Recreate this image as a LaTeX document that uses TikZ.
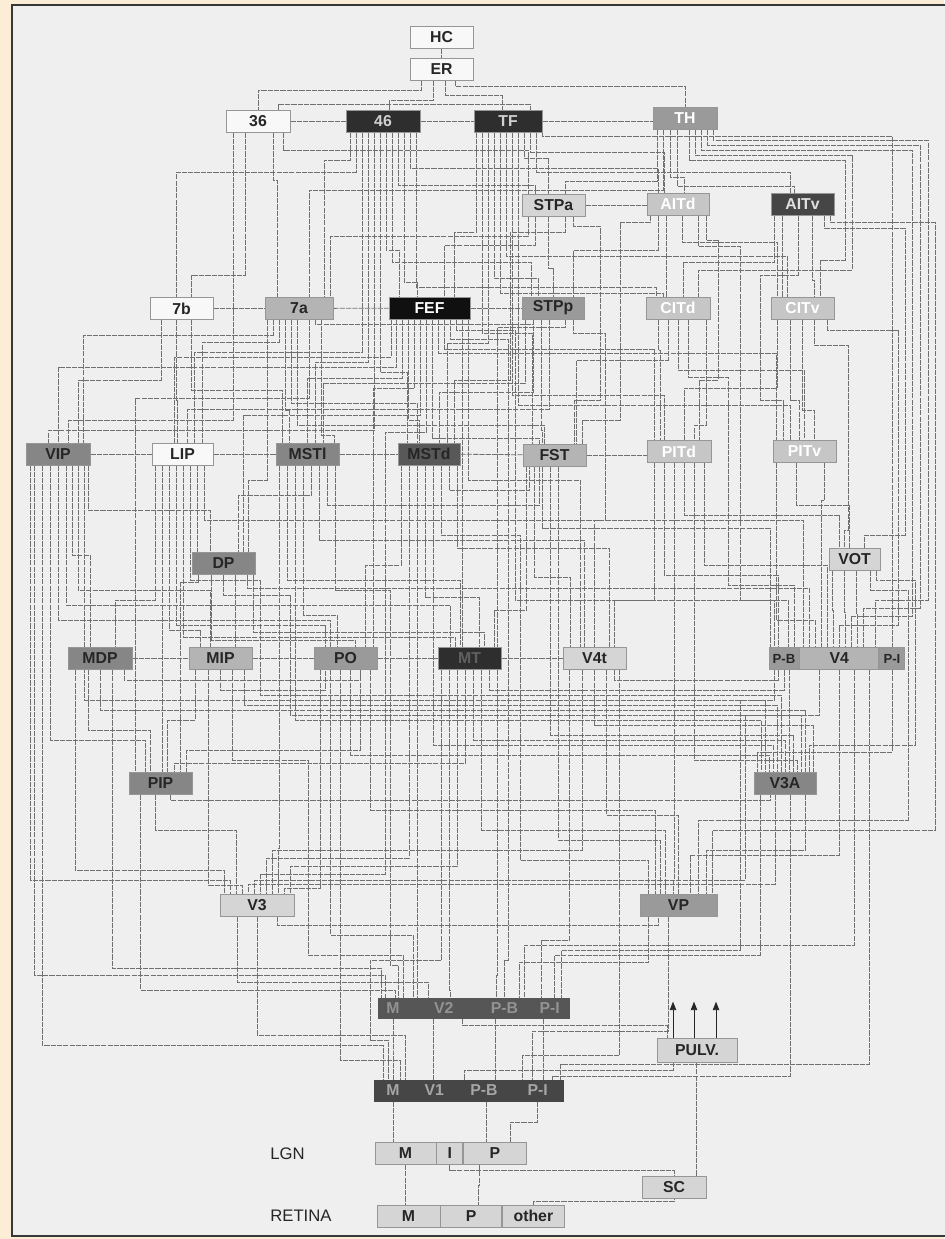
\documentclass[tikz,border=0pt]{standalone}
\usepackage{fontspec}
\setmainfont{Liberation Sans}
\usetikzlibrary{arrows.meta,positioning,calc,backgrounds}
\definecolor{sheet}{RGB}{251,237,214}
\definecolor{panel}{RGB}{239,239,239}
\definecolor{frame}{RGB}{55,55,55}
\definecolor{wire}{RGB}{112,112,112}
\definecolor{rim}{RGB}{150,150,150}
\definecolor{txt}{RGB}{38,38,38}
\definecolor{shWhite}{RGB}{248,248,248}
\definecolor{shPale}{RGB}{213,213,213}
\definecolor{shGhost}{RGB}{198,198,198}
\definecolor{shSilver}{RGB}{180,180,180}
\definecolor{shAsh}{RGB}{154,154,154}
\definecolor{shSlate}{RGB}{134,134,134}
\definecolor{shDeep}{RGB}{88,88,88}
\definecolor{shDeepw}{RGB}{70,70,70}
\definecolor{shCoal}{RGB}{46,46,46}
\definecolor{shBlack}{RGB}{16,16,16}
\definecolor{shVtwo}{RGB}{86,86,86}
\definecolor{shVone}{RGB}{70,70,70}
\tikzset{
  area/.style={
    draw=rim,
    line width=0.4pt,
    rectangle,
    inner sep=0pt,
    minimum height=0.44cm,
    text=txt,
    font=\fontsize{9}{10}\selectfont\bfseries,
  },
  wd/.style={minimum width=#1*0.02cm},
  paper/.style={fill=shWhite},
  pale/.style={fill=shPale},
  ghost/.style={fill=shGhost, text=white},
  silver/.style={fill=shSilver},
  ash/.style={fill=shAsh},
  ashw/.style={fill=shAsh, text=white},
  slate/.style={fill=shSlate},
  deep/.style={fill=shDeep},
  deepw/.style={fill=shDeepw, text=white!88!black},
  coal/.style={fill=shCoal, text=white!82!black},
  ink/.style={fill=shBlack, text=white},
  dim/.style={text=gray!75!black},
  small/.style={font=\fontsize{7.5}{8}\selectfont\bfseries},
  vtwo/.style={fill=shVtwo, draw=shVtwo, text=gray!85!white, minimum height=0.40cm},
  vone/.style={fill=shVone, draw=shVone, text=gray!70!white, minimum height=0.42cm},
  lbl/.style={text=txt, inner sep=0pt, font=\fontsize{9.5}{11}\selectfont},
  link/.style={draw=wire, line width=0.45pt, dash pattern=on 3pt off 0.6pt},
  uparr/.style={-{Triangle[length=1.7mm, width=1.3mm]}, draw=txt, fill=txt, line width=0.5pt},
}
\begin{document}
\begin{tikzpicture}[x=0.02cm, y=-0.02cm]
  \useasboundingbox (0,0) rectangle (944,1239);
  \begin{scope}[on background layer]
    \fill[sheet] (0,0) rectangle (944,1239);
    \filldraw[fill=panel, draw=frame, line width=1.3pt] (12,5) rectangle (960,1236);
  \end{scope}

  \node[area, paper, wd=63] (HC) at (441.5,37) {HC};
  \node[area, paper, wd=63] (ER) at (441.5,69) {ER};

  \node[area, paper, wd=64] (A36) at (258,121) {36};
  \node[area, coal, wd=74] (A46) at (383,121) {46};
  \node[area, coal, wd=68] (TF) at (508,121) {TF};
  \node[area, ashw, wd=64] (TH) at (685,118.5) {TH};

  \node[area, pale, wd=63] (STPa) at (553.5,205.5) {STPa};
  \node[area, ghost, wd=62] (AITd) at (678,204) {AITd};
  \node[area, deepw, wd=63] (AITv) at (802.5,204) {AITv};

  \node[area, paper, wd=63] (A7b) at (181.5,308.5) {7b};
  \node[area, silver, wd=68] (A7a) at (299,308.5) {7a};
  \node[area, ink, wd=81] (FEF) at (429.5,308) {FEF};
  \node[area, ash, wd=62] (STPp) at (553,308) {STPp};
  \node[area, ghost, wd=64] (CITd) at (678,308) {CITd};
  \node[area, ghost, wd=63] (CITv) at (802.5,308) {CITv};

  \node[area, slate, wd=64] (VIP) at (58,454) {VIP};
  \node[area, paper, wd=61] (LIP) at (182.5,454) {LIP};
  \node[area, slate, wd=63] (MSTl) at (307.5,454) {MSTl};
  \node[area, deep, wd=62] (MSTd) at (429,454) {MSTd};
  \node[area, silver, wd=63] (FST) at (554.5,455) {FST};
  \node[area, ghost, wd=64] (PITd) at (679,451.5) {PITd};
  \node[area, ghost, wd=63] (PITv) at (804.5,451.5) {PITv};

  \node[area, slate, wd=63] (DP) at (223.5,563) {DP};
  \node[area, pale, wd=51] (VOT) at (854.5,559) {VOT};

  \node[area, slate, wd=64] (MDP) at (100,658.5) {MDP};
  \node[area, silver, wd=63] (MIP) at (220.5,658.5) {MIP};
  \node[area, ash, wd=63] (PO) at (345.5,658.5) {PO};
  \node[area, coal, dim, wd=63] (MT) at (469.5,658.5) {MT};
  \node[area, pale, wd=63] (V4t) at (594.5,658.5) {V4t};
  \node[area, ash, small, wd=30] (V4pb) at (784,658.5) {P-B};
  \node[area, silver, wd=79, right=0pt of V4pb] (V4m) {V4};
  \node[area, ash, small, wd=25, right=0pt of V4m] (V4pi) {P-I};

  \node[area, slate, wd=63] (PIP) at (160.5,783) {PIP};
  \node[area, slate, wd=62] (V3A) at (785,783) {V3A};

  \node[area, pale, wd=74] (V3) at (257,905) {V3};
  \node[area, ash, wd=77] (VP) at (678.5,905) {VP};

  \node[area, vtwo, wd=30] (V2M) at (393,1008) {M};
  \node[area, vtwo, wd=70, right=0pt of V2M] (V2m) {V2};
  \node[area, vtwo, wd=50, right=0pt of V2m] (V2pb) {P-B};
  \node[area, vtwo, wd=39, right=0pt of V2pb] (V2pi) {P-I};

  \node[area, pale, wd=80, minimum height=0.48cm] (PULV) at (697,1050) {PULV.};

  \node[area, vone, wd=38] (V1M) at (393,1090.5) {M};
  \node[area, vone, wd=43, right=0pt of V1M] (V1m) {V1};
  \node[area, vone, wd=55, right=0pt of V1m] (V1pb) {P-B};
  \node[area, vone, wd=51, right=0pt of V1pb] (V1pi) {P-I};

  \node[lbl, anchor=west] (LGN) at (270,1153.5) {LGN};
  \node[area, pale, wd=61] (LGNM) at (405.5,1153.5) {M};
  \node[area, pale, wd=26, right=0pt of LGNM] (LGNI) {I};
  \node[area, pale, wd=63, right=0pt of LGNI] (LGNP) {P};
  \node[area, pale, wd=64] (SC) at (674,1187) {SC};
  \node[lbl, anchor=west] (RET) at (270,1216) {RETINA};
  \node[area, pale, wd=63] (RETM) at (408.5,1216) {M};
  \node[area, pale, wd=61, right=0pt of RETM] (RETP) {P};
  \node[area, pale, wd=62, right=0pt of RETP] (RETO) {other};

  \foreach \d in {-24,-3,19}
    \draw[uparr] ($(PULV.north)+(\d,0)$) -- ++(0,-36);

  \begin{scope}[on background layer]
    \foreach \a/\b in {HC/ER, A36/A46, A46/TF, A7b/A7a, A7a/FEF, FEF/STPp, VIP/LIP,
      LIP/MSTl, MSTl/MSTd, MSTd/FST, MDP/MIP, MIP/PO, PO/MT, MT/V4t}
      \draw[link] (\a) -- (\b);
    \draw[link] (TF.east) -- (TF.east -| TH.west);
    \draw[link] (STPa.east) -- (STPa.east -| AITd.west);
    \draw[link] (FST.east) -- (FST.east -| PITd.west);

    \foreach \src/\ds/\lv/\dst/\dd in {
      ER.south/-20/90/A36.north/0, ER.south/-8/100/A46.north/6,
      ER.south/4/95/TF.north/-6, ER.south/14/86/TH.north/0,
      A36.north/20/104/TF.north/22, A36.south/-13/275/A7b.north/10,
      A36.south/15/180/A7a.north/-22, A36.south/25/150/STPa.north/-25,
      A36.south/-25/420/VIP.north/10,
      A46.south/-33/160/A7a.north/25, A46.south/-27/172/A7b.north/-5,
      A46.south/-21/352/LIP.north/12, A46.south/-15/362/MSTl.north/8,
      A46.south/-9/430/VIP.north/-10, A46.south/-3/372/MSTd.north/-22,
      A46.south/3/250/FEF.north/-30, A46.south/9/262/STPp.north/-22,
      A46.south/15/185/STPa.north/-18, A46.south/21/282/FEF.north/-12,
      A46.south/27/168/AITd.north/-20, A46.south/33/287/CITd.north/-22,
      TF.south/-32/232/FEF.north/25, TF.south/-26/333/FST.north/-22,
      TF.south/-20/343/MSTd.north/18, TF.south/-14/278/STPp.north/-15,
      TF.south/-8/293/CITd.north/-15, TF.south/-2/256/CITv.north/-15,
      TF.south/4/395/PITd.north/-15, TF.south/10/405/PITv.north/-14,
      TF.south/16/158/STPa.north/-5, TF.south/22/152/AITd.north/-14,
      TF.south/28/172/AITv.north/-12, TF.south/34/136/V4pi.north/0,
      TH.south/-28/181/STPa.north/12, TH.south/-22/190/A7a.north/10,
      TH.south/-15/177/AITd.north/6, TH.south/-8/186/AITv.north/-8,
      STPa.south/-25/236/A7a.north/31, STPa.south/-18/245/FEF.north/15,
      STPa.south/-5/268/STPp.north/0,
      AITd.south/-20/250/STPp.north/20, AITd.south/-12/265/CITd.north/-12,
      AITd.south/4/242/CITv.north/-25,
      AITv.south/-20/250/CITv.north/-20, AITv.south/-28/262/CITd.north/5,
      AITv.south/10/280/CITv.north/12,
      A7b.south/-20/380/VIP.north/20, A7b.south/-5/400/LIP.north/-5,
      A7b.south/10/390/MSTl.north/-25,
      A7a.south/-32/480/DP.north/25, A7a.south/-26/335/VIP.north/25,
      A7a.south/-20/342/LIP.north/20, A7a.south/-14/410/MSTl.north/-18,
      A7a.south/-8/403/MSTd.north/-12, A7a.south/-2/425/FST.north/-10,
      A7a.south/10/398/PIP.north/-25, A7a.south/16/324/STPp.south/-20,
      A7a.south/22/435/MSTl.north/27,
      FEF.south/-38/357/LIP.north/-8, FEF.south/-33/367/VIP.north/0,
      FEF.south/-27/378/MSTl.north/0, FEF.south/-21/420/MSTd.north/-10,
      FEF.south/-15/388/PO.north/28, FEF.south/-9/415/DP.north/20,
      FEF.south/3/438/FST.north/-15, FEF.south/9/353/PITv.north/-28,
      FEF.south/15/349/PITd.north/-25, FEF.south/33/500/MT.north/-7,
      FEF.south/39/480/V4t.north/-14,
      STPp.south/-28/383/MSTl.north/16, STPp.south/-20/392/MSTd.north/10,
      STPp.south/-12/430/FST.north/-12, STPp.south/-4/409/LIP.north/5,
      STPp.south/12/327/MT.north/28,
      CITd.south/-20/350/PITd.north/-19, CITd.south/-10/360/FST.north/22,
      CITd.south/0/370/PITv.north/0, CITd.south/28/425/PITd.north/15,
      CITv.south/-25/388/PITd.north/5, CITv.south/-12/400/PITv.north/-5,
      CITv.south/0/410/PITv.north/10,
      VIP.south/-28/880/V3.north/-27, VIP.south/-24/975/V2M.north/-8,
      VIP.south/-16/1045/V1M.north/-10, VIP.south/-8/740/PIP.north/-15,
      VIP.south/0/620/PO.north/-15, VIP.south/8/605/MT.north/-19,
      VIP.south/14/555/MDP.north/-10, VIP.south/20/590/MIP.north/-10,
      VIP.south/26/700/V3A.north/-20, VIP.south/30/510/DP.north/-13,
      LIP.south/-27/600/MDP.north/15, LIP.south/-20/760/PIP.north/2,
      LIP.south/-13/630/MIP.north/-20, LIP.south/-6/625/PO.north/-20,
      LIP.south/1/637/MT.north/-14, LIP.south/15/530/DP.north/-26,
      LIP.south/22/520/V4m.north/-36,
      MSTl.south/-28/848/V3.north/21, MSTl.south/-20/580/MT.north/-9,
      MSTl.south/-12/720/V3A.north/-24, MSTl.south/-4/615/PO.north/-8,
      MSTl.south/4/495/DP.north/15, MSTl.south/12/540/V4t.north/-10,
      MSTl.south/20/505/FST.south/-15,
      MSTd.south/-28/565/PO.north/20, MSTd.south/-20/858/V3.north/9,
      MSTd.south/-12/980/V2m.north/-26, MSTd.south/-4/597/MT.north/10,
      MSTd.south/4/745/V3A.north/-12, MSTd.south/20/490/FST.south/-25,
      MSTd.south/28/548/V4t.north/15,
      FST.south/-28/610/MT.north/25, FST.south/-20/577/V4t.north/-24,
      FST.south/-12/528/V4pb.north/-14, FST.south/-4/735/V3A.north/8,
      FST.south/4/840/VP.north/-18,
      PITd.south/-25/600/V4t.north/20, PITd.south/-15/575/V4pb.north/-6,
      PITd.south/-5/880/VP.north/-5, PITd.south/5/515/VOT.north/-15,
      PITd.south/15/760/V3A.north/12, PITd.south/25/565/V4m.north/-12,
      PITv.south/-28/620/V4m.north/-24, PITv.south/-8/505/VOT.north/-5,
      PITv.south/20/500/V4m.north/-18,
      DP.south/-25/582/PIP.north/20, DP.south/-12/640/PO.north/10,
      DP.south/12/610/MIP.north/15, DP.south/24/588/V4m.north/-30,
      DP.south/30/632/MT.north/15,
      VOT.south/-22/610/V4m.north/-6, VOT.south/-10/612/V4m.north/6,
      VOT.south/2/614/V4m.north/18,
      MDP.south/-25/870/V3.north/-33, MDP.south/-12/730/PIP.north/-10,
      MDP.south/0/710/V3A.north/20, MDP.south/12/968/V2M.north/-12,
      MDP.south/24/680/PO.south/15,
      MIP.south/-25/720/PIP.north/7, MIP.south/-12/885/V3.north/-15,
      MIP.south/0/690/PO.south/-20, MIP.south/24/705/V3A.north/-8,
      PO.south/-25/888/V3.north/27, PO.south/-15/935/V2m.north/-30,
      PO.south/-5/1060/V1M.north/7, PO.south/5/755/V3A.north/-16,
      PO.south/15/750/PIP.north/26, PO.south/25/810/VP.north/-23.5,
      MT.south/-20/990/V2m.north/6.5, MT.south/-12/866/V3.north/33,
      MT.south/-4/763/PIP.north/14, MT.south/4/740/V3A.north/0,
      MT.south/12/830/VP.north/-13.5, MT.south/20/690/V4pb.south/0,
      MT.south/28/975/V2pb.north/-8,
      V4t.south/-25/940/V2pi.north/-8, V4t.south/-12/850/V3.north/15,
      V4t.south/0/725/V3A.north/28, V4t.south/12/815/VP.north/0,
      V4t.south/20/680/V4pb.south/-6, V4t.south/25/1055/V1pi.north/-15,
      V4pb.south/5/730/V3A.north/4, V4m.south/0/855/VP.north/12,
      V4m.south/15/945/V2pb.north/20, V4m.south/30/1064/V1pi.north/23,
      V4pi.south/0/752/V3A.north/-28,
      PIP.south/-20/990/V2M.north/2, PIP.south/-5/830/V3.north/-21,
      PIP.south/10/800/V3A.south/-15,
      V3A.south/-25/955/V2pi.north/5, V3A.south/-10/884/V3.north/-9,
      V3A.south/5/1076/V1pi.north/15, V3A.south/20/850/VP.north/28,
      V3.south/-20/982/V2m.north/-15, V3.south/0/1035/V1M.north/12,
      V3.south/20/925/VP.south/-20,
      VP.south/-30/962/V2pb.north/15, VP.south/-10/1031/V1pi.north/-5,
      V2M.south/0/1050/V1M.north/0, V2m.south/-10/1050/V1m.north/-0.5,
      V2pb.south/-9/1050/V1pb.north/11.5, V2pi.south/-6/1050/V1pi.north/6,
      V2m.south/19/1025/PULV.north/-30, V1pb.north/-20/1070/PULV.south/-24,
      V1M.south/0/1120/LGNM.north/-12, V1pb.south/2/1125/LGNP.north/-9,
      V1pi.south/0/1122/LGNP.north/15,
      LGNM.south/0/1185/RETM.north/-3, LGNP.south/-16/1185/RETP.north/7,
      LGNI.south/0/1170/SC.north/0, RETO.north/0/1201/SC.south/0,
      SC.north/22/1110/PULV.south/-1}
      \draw[link] ($(\src)+(\ds,0)$) coordinate (p) -- (p |- 0,\lv) -| ($(\dst)+(\dd,0)$);

    \foreach \src/\ds/\ya/\xm/\yb/\dst/\dd in {
      TH.south/28/140/928/600/V4m.north/36, TH.south/22/145/920/608/V4m.north/24,
      TH.south/16/150/912/616/V4m.north/12, TH.south/10/155/852/270/CITd.north/20,
      TH.south/4/160/845/260/CITv.north/18,
      AITv.south/28/222/935/830/VP.north/34, AITv.south/22/228/905/535/VOT.north/10,
      AITv.south/-4/275/760/400/PITv.north/-21,
      AITd.south/28/240/718/380/PITd.north/20, AITd.south/-28/222/620/420/FST.north/28,
      AITd.south/20/246/740/600/V4pb.north/4,
      STPa.south/20/226/600/400/FST.north/20, STPa.south/12/232/510/380/MSTd.north/25,
      FEF.south/27/330/515/600/V4pb.north/-10, FEF.south/21/339/508/960/V2pb.north/0,
      FEF.south/-3/432/385/874/V3.north/3,
      STPp.south/20/333/605/520/V4t.north/0,
      CITv.south/25/330/898/625/V4m.north/0, CITv.south/12/345/848/530/VOT.north/-10,
      CITd.south/10/377/728/585/V4pb.north/10,
      VOT.south/16/590/908/820/VP.north/20, VOT.south/22/580/915/745/V3A.north/24,
      LIP.south/8/580/260/695/V3A.north/-4, DP.south/0/595/290/715/V3A.north/16,
      MSTl.south/28/590/390/965/V2M.north/5, MSTd.south/12/535/520/860/VP.north/-30,
      MIP.south/12/760/308/955/V2M.north/10, MT.south/-28/960/370/1040/V1M.north/-5,
      V4pb.south/-10/700/740/950/V2pi.north/12, V4m.south/-20/715/745/880/V3.north/-3}
      \draw[link] ($(\src)+(\ds,0)$) coordinate (p) -- (p |- 0,\ya) -- (\xm,\ya)
        -- (\xm,\yb) -| ($(\dst)+(\dd,0)$);
  \end{scope}
\end{tikzpicture}
\end{document}
